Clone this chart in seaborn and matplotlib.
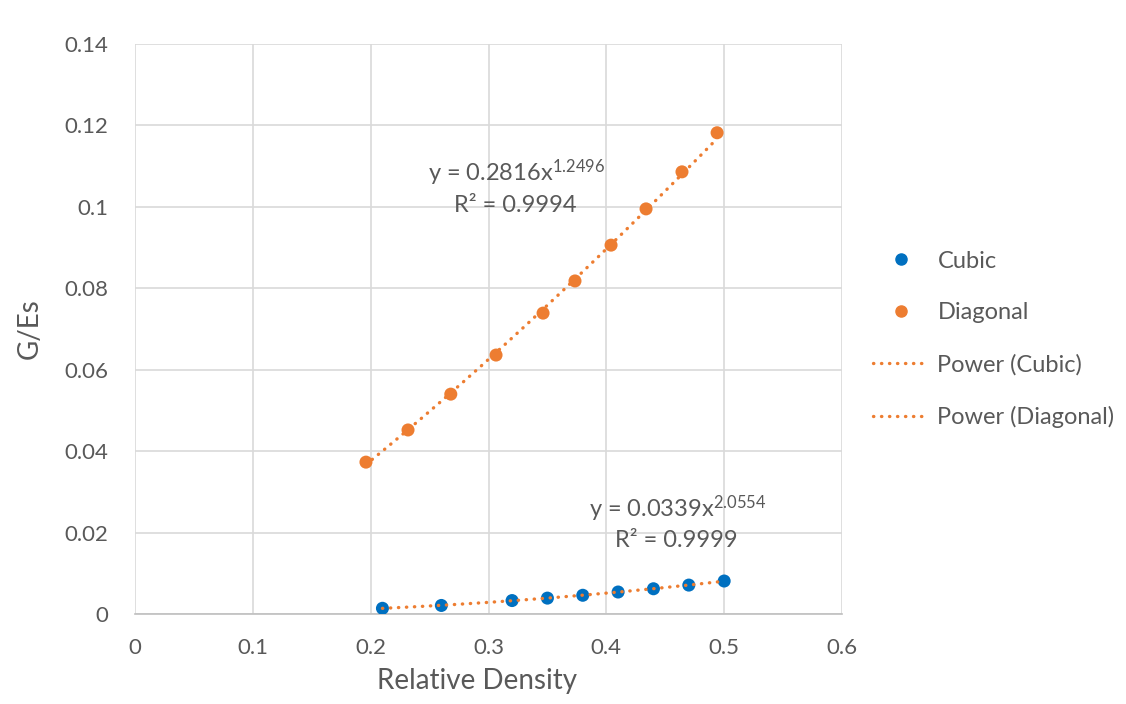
import numpy as np
import pandas as pd
import matplotlib
matplotlib.use("Agg")
import matplotlib.pyplot as plt
import seaborn as sns
from matplotlib.ticker import FuncFormatter
from matplotlib.lines import Line2D

# Data
cubic_x = [0.21, 0.26, 0.32, 0.35, 0.38, 0.41, 0.44, 0.47, 0.50]
cubic_y = [0.0014, 0.0021, 0.0033, 0.0039, 0.0046, 0.0054, 0.0062, 0.0071, 0.0081]
diag_x = [0.196, 0.2317, 0.268, 0.3064, 0.3463, 0.3734, 0.404, 0.4337, 0.4642, 0.494]
diag_y = [0.0373, 0.0452, 0.0540, 0.0636, 0.0739, 0.0818, 0.0906, 0.0995, 0.1086, 0.1182]
cubic_eq = ("0.0339", "2.0554", "0.9999")
diag_eq = ("0.2816", "1.2496", "0.9994")
x_ticks = [0, 0.1, 0.2, 0.3, 0.4, 0.5, 0.6]
y_ticks = [0, 0.02, 0.04, 0.06, 0.08, 0.1, 0.12, 0.14]

BLUE = "#0070C0"
ORANGE = "#ED7D31"
TXT = "#595959"
GRID = "#D9D9D9"
DOT = (0, (0.1, 2.3))

sns.set_theme(style="white")
plt.rcParams['font.family'] = ['Lato', 'DejaVu Sans']
plt.rcParams['mathtext.fontset'] = 'custom'
plt.rcParams['mathtext.rm'] = 'Lato'

fig = plt.figure(figsize=(11.26, 7.04), dpi=100)
ax = fig.add_axes([135/1126, 90/704, (842-135)/1126, (614-44)/704])

def power_fit(x, y):
    b, lna = np.polyfit(np.log(x), np.log(y), 1)
    xs = np.linspace(min(x), max(x), 200)
    return xs, np.exp(lna) * xs ** b

df_c = pd.DataFrame({"x": cubic_x, "y": cubic_y})
df_d = pd.DataFrame({"x": diag_x, "y": diag_y})

sns.scatterplot(data=df_c, x="x", y="y", ax=ax, color=BLUE, s=88, edgecolor="none", zorder=3)
sns.scatterplot(data=df_d, x="x", y="y", ax=ax, color=ORANGE, s=88, edgecolor="none", zorder=3)

for xx, yy in [(cubic_x, cubic_y), (diag_x, diag_y)]:
    xs, ys = power_fit(np.array(xx), np.array(yy))
    sns.lineplot(x=xs, y=ys, ax=ax, color=ORANGE, linewidth=2.4, linestyle=DOT,
                 dash_capstyle="round", zorder=4, sort=False)

ax.set_xlim(0, 0.6)
ax.set_ylim(0, 0.14)
ax.set_xticks(x_ticks)
ax.set_yticks(y_ticks)
fmt = FuncFormatter(lambda v, p: ("%g" % round(v, 4)))
ax.xaxis.set_major_formatter(fmt)
ax.yaxis.set_major_formatter(fmt)
ax.grid(True, color=GRID, linewidth=1.2)
ax.set_axisbelow(True)
for s in ["top", "right", "left"]:
    ax.spines[s].set_visible(False)
ax.spines["bottom"].set_color("#BFBFBF")
ax.spines["bottom"].set_linewidth(1.2)
ax.tick_params(axis="both", colors=TXT, labelsize=16, length=0)
ax.tick_params(axis="x", pad=17)
ax.tick_params(axis="y", pad=19)
ax.set_xlabel("Relative Density", fontsize=20, color=TXT)
ax.xaxis.set_label_coords(0.484, -0.095)
ax.set_ylabel("G/Es", fontsize=20, color=TXT, labelpad=16)

ax.text(0.3235, 0.1083, "y = %sx$\\mathregular{^{%s}}$" % (diag_eq[0], diag_eq[1]),
        ha="center", va="center", fontsize=17, color=TXT)
ax.text(0.3225, 0.1003, "R² = %s" % diag_eq[2], ha="center", va="center", fontsize=17, color=TXT)
ax.text(0.4605, 0.0258, "y = %sx$\\mathregular{^{%s}}$" % (cubic_eq[0], cubic_eq[1]),
        ha="center", va="center", fontsize=17, color=TXT)
ax.text(0.4595, 0.0180, "R² = %s" % cubic_eq[2], ha="center", va="center", fontsize=17, color=TXT)

handles = [
    Line2D([], [], marker="o", linestyle="none", color=BLUE, markersize=8),
    Line2D([], [], marker="o", linestyle="none", color=ORANGE, markersize=8),
    Line2D([], [], color=ORANGE, linewidth=2.4, linestyle=DOT, dash_capstyle="round"),
    Line2D([], [], color=ORANGE, linewidth=2.4, linestyle=DOT, dash_capstyle="round"),
]
labels = ["Cubic", "Diagonal", "Power (Cubic)", "Power (Diagonal)"]
leg = fig.legend(handles, labels, loc="upper left", bbox_to_anchor=(856/1126, 1 - 234/704),
                 frameon=False, fontsize=17, labelspacing=1.3, handlelength=2.4,
                 handletextpad=0.35, labelcolor=TXT, borderpad=0.2)

fig.savefig("out.png", dpi=100, facecolor="white")
